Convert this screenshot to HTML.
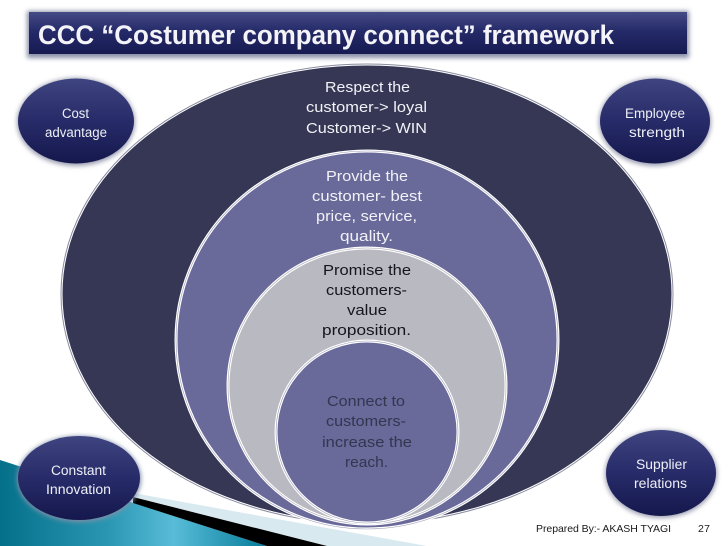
<!DOCTYPE html>
<html>
<head>
<meta charset="utf-8">
<style>
html,body{margin:0;padding:0;background:#fff;width:728px;height:546px;overflow:hidden}
svg{display:block}
text{font-family:"Liberation Sans",sans-serif;text-anchor:start}
.w{fill:#f1f2f6;font-size:14.5px}
.d{fill:#15151c;font-size:14.5px}
.g{fill:#343650;font-size:14.5px}
.s{fill:#eef0f6;font-size:13.5px}
</style>
</head>
<body>
<svg width="728" height="546" viewBox="0 0 728 546" xmlns="http://www.w3.org/2000/svg">
<defs>
<linearGradient id="hd" x1="0" y1="0" x2="0" y2="1">
<stop offset="0" stop-color="#454b86"/><stop offset=".45" stop-color="#252a69"/><stop offset="1" stop-color="#171b52"/>
</linearGradient>
<linearGradient id="ov" x1="0" y1="0" x2="0" y2="1">
<stop offset="0" stop-color="#3f4580"/><stop offset=".5" stop-color="#272b69"/><stop offset="1" stop-color="#15184c"/>
</linearGradient>
<linearGradient id="teal" x1="0" y1="0" x2="1" y2="0">
<stop offset="0" stop-color="#05708a"/><stop offset=".4" stop-color="#2a96b2"/><stop offset=".65" stop-color="#58bcd8"/><stop offset="1" stop-color="#067c9a"/>
</linearGradient>
<filter id="sh" x="-20%" y="-20%" width="140%" height="140%"><feGaussianBlur stdDeviation="2.5"/></filter>
</defs>

<polygon points="0,460 267,546 0,546" fill="url(#teal)"/>
<polygon points="133,493 427,546 327,546 133,497" fill="#d9e9f0"/>
<polygon points="133,497 327,546 267,546 133,503" fill="#000"/>

<rect x="27" y="11" width="662" height="47" fill="#8a90a8" filter="url(#sh)"/>
<rect x="29" y="12" width="658" height="42" fill="url(#hd)"/>
<text x="38" y="44" textLength="576" lengthAdjust="spacingAndGlyphs" style="font-size:27px;font-weight:bold;fill:#f4f4f8">CCC “Costumer company connect” framework</text>

<ellipse cx="367" cy="294" rx="305" ry="229" fill="#353755" stroke="#fff" stroke-width="1"/>
<ellipse cx="367" cy="294" rx="306" ry="230" fill="none" stroke="#8a8ca0" stroke-width="1"/>

<ellipse cx="367" cy="340" rx="191" ry="189" fill="#69699a" stroke="#fff" stroke-width="3"/>
<ellipse cx="367" cy="340" rx="191" ry="189" fill="none" stroke="#9a9ab8" stroke-width="0.6"/>
<ellipse cx="367" cy="386" rx="139" ry="138" fill="#b9b9c1" stroke="#fff" stroke-width="3"/>
<ellipse cx="367" cy="386" rx="139" ry="138" fill="none" stroke="#a9a9b4" stroke-width="0.6"/>
<ellipse cx="367" cy="432" rx="91" ry="91" fill="#69699a" stroke="#fff" stroke-width="3"/>
<ellipse cx="367" cy="432" rx="91" ry="91" fill="none" stroke="#9a9ab8" stroke-width="0.6"/>

<text class="w" x="325" y="92" textLength="85" lengthAdjust="spacingAndGlyphs">Respect the</text>
<text class="w" x="306" y="112" textLength="121" lengthAdjust="spacingAndGlyphs">customer-&gt; loyal</text>
<text class="w" x="306" y="133" textLength="121" lengthAdjust="spacingAndGlyphs">Customer-&gt; WIN</text>

<text class="w" x="326" y="181" textLength="82" lengthAdjust="spacingAndGlyphs">Provide the</text>
<text class="w" x="312" y="201" textLength="110" lengthAdjust="spacingAndGlyphs">customer- best</text>
<text class="w" x="316" y="221" textLength="101" lengthAdjust="spacingAndGlyphs">price, service,</text>
<text class="w" x="340" y="241" textLength="53" lengthAdjust="spacingAndGlyphs">quality.</text>

<text class="d" x="323" y="275" textLength="88" lengthAdjust="spacingAndGlyphs">Promise the</text>
<text class="d" x="326" y="295" textLength="81" lengthAdjust="spacingAndGlyphs">customers-</text>
<text class="d" x="347" y="315" textLength="40" lengthAdjust="spacingAndGlyphs">value</text>
<text class="d" x="322" y="335" textLength="89" lengthAdjust="spacingAndGlyphs">proposition.</text>

<text class="g" x="327" y="406" textLength="78" lengthAdjust="spacingAndGlyphs">Connect to</text>
<text class="g" x="326" y="426" textLength="80" lengthAdjust="spacingAndGlyphs">customers-</text>
<text class="g" x="322" y="447" textLength="90" lengthAdjust="spacingAndGlyphs">increase the</text>
<text class="g" x="345" y="467" textLength="43" lengthAdjust="spacingAndGlyphs">reach.</text>

<ellipse cx="76" cy="122" rx="59" ry="44" fill="#9a9cb0" filter="url(#sh)"/>
<ellipse cx="76" cy="121" rx="58" ry="42.500" fill="url(#ov)"/>
<text class="s" x="62" y="118" textLength="27" lengthAdjust="spacingAndGlyphs">Cost</text>
<text class="s" x="45" y="137" textLength="62" lengthAdjust="spacingAndGlyphs">advantage</text>

<ellipse cx="655" cy="122" rx="56" ry="44" fill="#9a9cb0" filter="url(#sh)"/>
<ellipse cx="655" cy="121" rx="55" ry="42.500" fill="url(#ov)"/>
<text class="s" x="625" y="118" textLength="60" lengthAdjust="spacingAndGlyphs">Employee</text>
<text class="s" x="629" y="137" textLength="56" lengthAdjust="spacingAndGlyphs">strength</text>

<ellipse cx="79" cy="479" rx="62" ry="43" fill="#7f8fa8" filter="url(#sh)"/>
<ellipse cx="79" cy="478" rx="61" ry="42" fill="url(#ov)"/>
<text class="s" x="51" y="475" textLength="55" lengthAdjust="spacingAndGlyphs">Constant</text>
<text class="s" x="46" y="494" textLength="65" lengthAdjust="spacingAndGlyphs">Innovation</text>

<ellipse cx="661" cy="474" rx="56" ry="44" fill="#9a9cb0" filter="url(#sh)"/>
<ellipse cx="661" cy="473" rx="55" ry="43" fill="url(#ov)"/>
<text class="s" x="636" y="469" textLength="51" lengthAdjust="spacingAndGlyphs">Supplier</text>
<text class="s" x="634" y="488" textLength="53" lengthAdjust="spacingAndGlyphs">relations</text>

<text x="536" y="532" textLength="135" lengthAdjust="spacing" style="font-size:10.500px;fill:#1a1a1a">Prepared By:- AKASH TYAGI</text>
<text x="698" y="532" textLength="12" lengthAdjust="spacing" style="font-size:10.500px;fill:#1a1a1a">27</text>
</svg>
</body>
</html>
